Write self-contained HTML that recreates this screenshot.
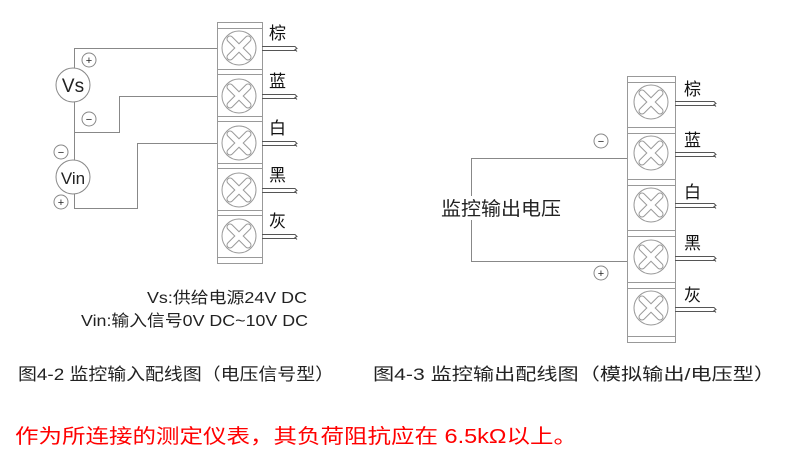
<!DOCTYPE html>
<html><head><meta charset="utf-8"><style>
html,body{margin:0;padding:0;background:#fff;width:790px;height:467px;overflow:hidden}
svg{display:block}
text{font-family:"Liberation Sans","Noto Sans CJK SC",sans-serif}
</style></head><body>
<svg width="790" height="467" viewBox="0 0 790 467" xmlns="http://www.w3.org/2000/svg">
<defs>
<g id="scr">
<circle r="17" fill="#fff" stroke="#999" stroke-width="1"/>
<path d="M-9,-9L9,9M9,-9L-9,9" stroke="#999" stroke-width="7" stroke-linecap="round"/>
<path d="M-9,-9L9,9M9,-9L-9,9" stroke="#fff" stroke-width="5" stroke-linecap="round"/>
</g>
</defs>
<g fill="none" stroke="#999" stroke-width="1">
<!-- left block -->
<rect x="217.5" y="22.5" width="45" height="241"/>
<path d="M217,28.5H262M217,69.5H262M217,74.5H262M217,116.5H262M217,121.5H262M217,163.5H262M217,168.5H262M217,210.5H262M217,215.5H262M217,257.5H262"/>
<!-- right block -->
<rect x="627.5" y="76.5" width="48" height="266"/>
<path d="M627,82.5H675M627,127.5H675M627,133.5H675M627,179.5H675M627,185.5H675M627,230.5H675M627,236.5H675M627,282.5H675M627,288.5H675M627,336.5H675"/>
</g>
<g>
<use href="#scr" x="239" y="48"/><use href="#scr" x="239" y="96"/><use href="#scr" x="239" y="143"/><use href="#scr" x="239" y="190"/><use href="#scr" x="239" y="236"/>
<use href="#scr" x="651" y="102"/><use href="#scr" x="651" y="153"/><use href="#scr" x="651" y="205"/><use href="#scr" x="651" y="257"/><use href="#scr" x="651" y="308"/>
</g>
<g fill="none" stroke="#555" stroke-width="1">
<!-- pigtails left -->
<path d="M262,46.5H295l2,2-2,1 2,2M262,50.5H296"/>
<path d="M262,94.5H295l2,2-2,1 2,2M262,98.5H296"/>
<path d="M262,141.5H295l2,2-2,1 2,2M262,145.5H296"/>
<path d="M262,188.5H295l2,2-2,1 2,2M262,192.5H296"/>
<path d="M262,234.5H295l2,2-2,1 2,2M262,238.5H296"/>
<!-- pigtails right -->
<path d="M675,101.5H714l2,2-2,1 2,2M675,105.5H715"/>
<path d="M675,152.5H714l2,2-2,1 2,2M675,156.5H715"/>
<path d="M675,203.5H714l2,2-2,1 2,2M675,207.5H715"/>
<path d="M675,256.5H714l2,2-2,1 2,2M675,260.5H715"/>
<path d="M675,307.5H714l2,2-2,1 2,2M675,311.5H715"/>
</g>
<g fill="none" stroke="#888" stroke-width="1">
<path d="M74.5,68V48.5H217"/>
<path d="M74.5,102V160"/>
<path d="M74.5,132.5H119.5V96.5H217"/>
<path d="M74.5,194V208.5H137.5V143.5H217"/>
<path d="M627,158.5H471.5V261.5H627"/>
</g>
<g fill="#fff" stroke="#888" stroke-width="1">
<circle cx="73" cy="85" r="17"/><circle cx="73" cy="177" r="17"/>
<circle cx="89" cy="60" r="7"/><circle cx="89" cy="119" r="7"/><circle cx="61" cy="152" r="7"/><circle cx="61" cy="202" r="7"/>
<circle cx="601" cy="141" r="7"/><circle cx="601" cy="273" r="7"/>
</g>
<rect x="438" y="196" width="126" height="24" fill="#fff"/>
<g fill="#222" font-size="11" text-anchor="middle">
<text x="89" y="64">+</text><text x="89" y="123">−</text><text x="61" y="156">−</text><text x="61" y="206">+</text>
<text x="601" y="145">−</text><text x="601" y="277">+</text>
</g>
<g fill="#222" text-anchor="middle">
<text x="73" y="92" font-size="19">Vs</text><text x="73" y="184" font-size="17">Vin</text>
</g>
<g fill="#111" font-size="17">
<text x="269" y="39">棕</text><text x="269" y="87">蓝</text><text x="269" y="134">白</text><text x="269" y="181">黑</text><text x="269" y="227">灰</text>
<text x="684" y="95">棕</text><text x="684" y="146">蓝</text><text x="684" y="198">白</text><text x="684" y="249">黑</text><text x="684" y="301">灰</text>
</g>
<g fill="#222">
<text x="441" y="215" font-size="19" textLength="120" lengthAdjust="spacingAndGlyphs">监控输出电压</text>
<text x="147" y="303" font-size="16" textLength="160" lengthAdjust="spacingAndGlyphs">Vs:供给电源24V DC</text>
<text x="81" y="326" font-size="16" textLength="227" lengthAdjust="spacingAndGlyphs">Vin:输入信号0V DC~10V DC</text>
<text x="18" y="380" font-size="17" textLength="316" lengthAdjust="spacingAndGlyphs">图4-2 监控输入配线图（电压信号型）</text>
<text x="373" y="380" font-size="17" textLength="402" lengthAdjust="spacingAndGlyphs">图4-3 监控输出配线图（模拟输出/电压型）</text>
</g>
<text x="15" y="443" font-size="20" fill="#f00" textLength="562" lengthAdjust="spacingAndGlyphs">作为所连接的测定仪表，其负荷阻抗应在 6.5kΩ以上。</text>
</svg>
</body></html>
